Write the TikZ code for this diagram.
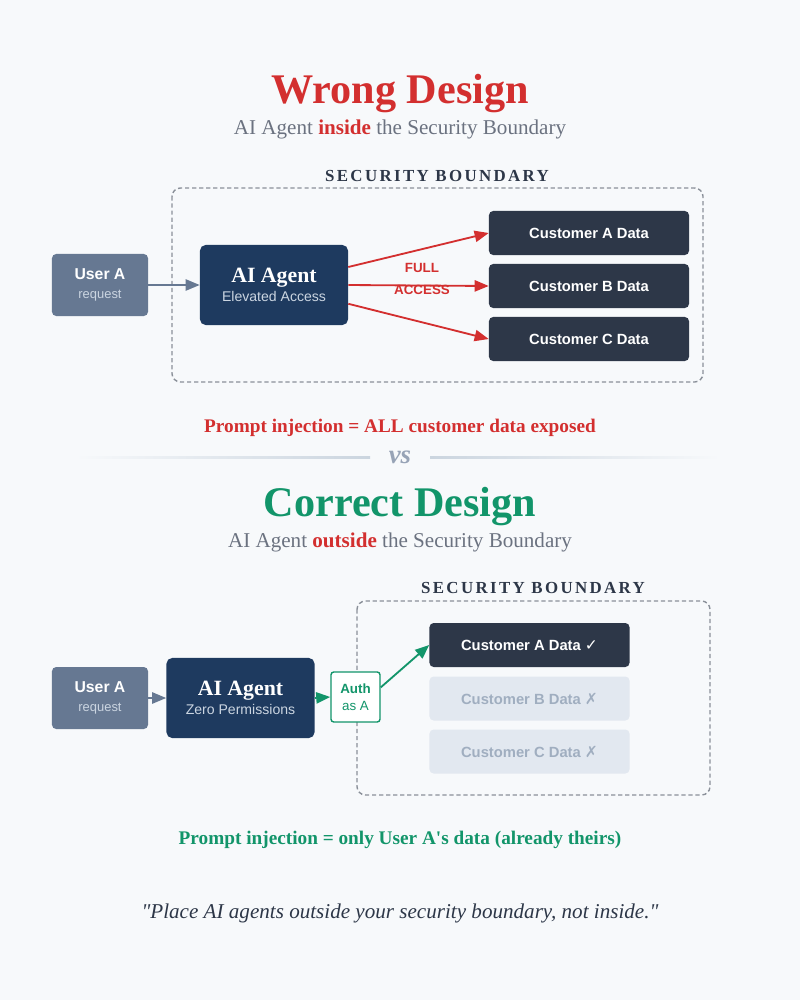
\documentclass[tikz,border=0pt]{standalone}
\usepackage{fontspec}
\setmainfont{Liberation Serif}[Ligatures=TeXOff]
\setsansfont{Liberation Sans}
\newfontfamily\symfont{DejaVu Sans}
\newfontfamily\boundaryfont[LetterSpace=14]{Liberation Serif}
\usepackage{xcolor}
\usetikzlibrary{arrows.meta}

\definecolor{bg}{HTML}{F7F9FB}
\definecolor{wrongred}{HTML}{D32F2F}
\definecolor{rightgreen}{HTML}{12956A}
\definecolor{navy}{HTML}{1E3A5F}
\definecolor{slate}{HTML}{2D3748}
\definecolor{userfill}{HTML}{667892}
\definecolor{subgray}{HTML}{6B7280}
\definecolor{bordergray}{HTML}{8A9099}
\definecolor{mutedfill}{HTML}{E2E8F0}
\definecolor{mutedtext}{HTML}{A0AEC0}
\definecolor{lighttext}{HTML}{CBD5E1}
\definecolor{vsgray}{HTML}{97A3B6}
\definecolor{rulegray}{HTML}{CBD5DF}

\tikzset{
  headline/.style={font=\fontsize{30}{34}\selectfont\bfseries},
  subline/.style={font=\fontsize{15}{18}\selectfont, text=subgray},
  bndlabel/.style={font=\boundaryfont\bfseries\fontsize{12}{14}\selectfont, text=slate},
  userbox/.style={fill=userfill, rounded corners=3pt, minimum width=2.4cm, minimum height=1.55cm, align=center, text=white, inner sep=1pt},
  agentbox/.style={fill=navy, rounded corners=4pt, minimum width=3.7cm, minimum height=2cm, align=center, text=white, inner sep=1pt},
  databox/.style={fill=slate, rounded corners=3pt, minimum width=5cm, minimum height=1.1cm, text=white, font=\sffamily\bfseries\fontsize{10.5}{12}\selectfont},
  mutedbox/.style={databox, fill=mutedfill, text=mutedtext},
  boundary/.style={draw=bordergray, line width=1pt, rounded corners=6pt, dash pattern=on 3pt off 2pt},
  flow/.style={-{Triangle[length=10pt,width=8pt]}, line width=1.3pt},
  bottomline/.style={font=\fontsize{13.7}{16}\selectfont\bfseries}
}

\begin{document}
\begin{tikzpicture}[x=0.025cm, y=-0.025cm]
  \fill[bg] (0,0) rectangle (800,1000);
  \useasboundingbox (0,0) rectangle (800,1000);

  % Wrong design - heading
  \node[headline, text=wrongred] (titleW) at (400,94) {Wrong Design};
  \node[subline] (subW) at (400,129) {AI Agent \textcolor{wrongred}{\textbf{inside}} the Security Boundary};

  % Wrong design - boundary
  \node[bndlabel] (bndW) at (437,176) {SECURITY BOUNDARY};
  \draw[boundary] (172,188) rectangle (703,382);

  % Wrong design - nodes
  \node[userbox] (userW) at (100,285) {{\sffamily\bfseries\fontsize{11.2}{13}\selectfont User A}\\[1pt]{\sffamily\fontsize{9.2}{11}\selectfont\color{lighttext}request}};
  \node[agentbox] (agentW) at (274,285) {{\fontsize{15.5}{18}\selectfont\bfseries AI Agent}\\[1pt]{\sffamily\fontsize{10}{12}\selectfont\color{lighttext}Elevated Access}};
  \node[databox] (custAW) at (589,233) {Customer A Data};
  \node[databox] (custBW) at (589,286) {Customer B Data};
  \node[databox] (custCW) at (589,339) {Customer C Data};

  % Wrong design - arrows
  \draw[flow, userfill] (userW.east) -- (agentW.west);
  \draw[flow, wrongred] ([yshift=0.45cm]agentW.east) -- (custAW.west);
  \draw[flow, wrongred] (agentW.east) -- (custBW.west);
  \draw[flow, wrongred] ([yshift=-0.47cm]agentW.east) -- (custCW.west);
  \node[text=wrongred, font=\sffamily\bfseries\fontsize{9.5}{11}\selectfont, align=center] (fullW) at (422,279) {FULL\\[4pt]ACCESS};

  \node[bottomline, text=wrongred] (resultW) at (400,428) {Prompt injection = ALL customer data exposed};

  % Divider
  \shade[left color=bg, right color=rulegray] (75,456) rectangle (370,458.5);
  \shade[left color=rulegray, right color=bg] (430,456) rectangle (720,458.5);
  \node[text=vsgray, font=\fontsize{19}{22}\selectfont\bfseries\itshape] (vs) at (400,457) {vs};

  % Correct design - heading
  \node[headline, text=rightgreen] (titleC) at (400,507) {Correct Design};
  \node[subline] (subC) at (400,542) {AI Agent \textcolor{wrongred}{\textbf{outside}} the Security Boundary};

  % Correct design - boundary
  \node[bndlabel] (bndC) at (533,588) {SECURITY BOUNDARY};
  \draw[boundary] (357,601) rectangle (710,795);

  % Correct design - nodes
  \node[userbox] (userC) at (100,698) {{\sffamily\bfseries\fontsize{11.2}{13}\selectfont User A}\\[1pt]{\sffamily\fontsize{9.2}{11}\selectfont\color{lighttext}request}};
  \node[agentbox] (agentC) at (240.5,698) {{\fontsize{15.5}{18}\selectfont\bfseries AI Agent}\\[1pt]{\sffamily\fontsize{10}{12}\selectfont\color{lighttext}Zero Permissions}};
  \node[draw=rightgreen, fill=white, line width=1pt, rounded corners=2pt, minimum width=1.225cm, minimum height=1.25cm, inner sep=0pt, align=center, text=rightgreen] (auth) at (355.5,697) {{\sffamily\bfseries\fontsize{9.5}{11}\selectfont Auth}\\{\sffamily\fontsize{9.5}{11}\selectfont as A}};
  \node[databox] (custAC) at (529.5,645) {Customer A Data {\symfont\bfseries\fontsize{11}{12}\selectfont ✓}};
  \node[mutedbox] (custBC) at (529.5,698.5) {Customer B Data {\symfont\bfseries\fontsize{11}{12}\selectfont ✗}};
  \node[mutedbox] (custCC) at (529.5,751.5) {Customer C Data {\symfont\bfseries\fontsize{11}{12}\selectfont ✗}};

  % Correct design - arrows
  \draw[flow, userfill] (userC.east) -- (agentC.west);
  \draw[flow, rightgreen] (agentC.east) -- (auth.west);
  \draw[flow, rightgreen] ([yshift=0.24cm]auth.east) -- (custAC.west);

  \node[bottomline, text=rightgreen] (resultC) at (400,840) {Prompt injection = only User A's data (already theirs)};

  % Closing quote
  \node[font=\fontsize{15}{18}\selectfont\itshape, text=slate] (quote) at (400,913) {"Place AI agents outside your security boundary, not inside."};
\end{tikzpicture}
\end{document}
